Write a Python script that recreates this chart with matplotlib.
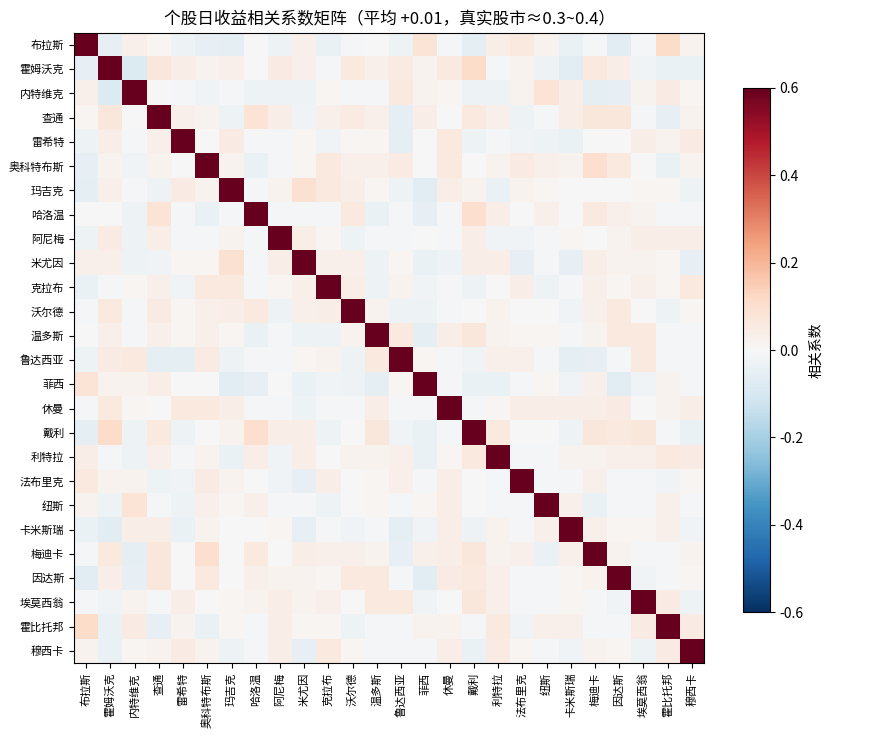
import numpy as np
import matplotlib
matplotlib.use("Agg")
import matplotlib.pyplot as plt

plt.rcParams['font.family'] = ['Noto Sans CJK SC', 'DejaVu Sans']
plt.rcParams['axes.unicode_minus'] = False

stocks = ["布拉斯", "霍姆沃克", "内特维克", "查通", "雷希特", "奥科特布斯", "玛吉克",
          "哈洛温", "阿尼梅", "米尤因", "克拉布", "沃尔德", "温多斯", "鲁达西亚",
          "菲西", "休曼", "戴利", "利特拉", "法布里克", "纽斯", "卡米斯瑞", "梅迪卡",
          "因达斯", "埃莫西翁", "霍比托邦", "穆西卡"]

# upper triangle, row i holds columns i+1 .. 25
upper_rows = [
    [-0.05, 0.03, 0.01, -0.03, -0.05, -0.06, 0, -0.03, 0.03, -0.04, -0.01, 0,
     -0.03, 0.08, -0.01, -0.06, 0.04, 0.06, 0.02, -0.04, -0.01, -0.07, -0.01, 0.11, 0.02],
    [-0.08, 0.07, 0.04, 0.02, 0.03, 0, 0.05, 0.03, -0.01, 0.06, 0.03,
     0.05, 0.02, 0.06, 0.11, -0.01, 0.02, -0.03, -0.07, 0.06, 0.04, -0.02, -0.04, -0.04],
    [0, -0.01, -0.02, -0.01, -0.03, -0.03, -0.03, 0.01, -0.01, -0.01,
     0.06, 0.02, 0.01, -0.03, -0.03, 0.02, 0.08, 0.04, -0.06, -0.05, 0.02, 0.05, 0.01],
    [0.03, 0.02, -0.03, 0.08, 0.04, -0.02, 0.03, 0.05, 0.03,
     -0.06, 0.04, 0, 0.06, 0.03, -0.03, -0.01, 0.04, 0.07, 0.07, -0.01, -0.05, 0.02],
    [0, 0.05, -0.01, -0.01, 0.01, -0.02, 0.01, 0.01,
     -0.06, 0, 0.06, -0.03, -0.01, -0.02, -0.03, -0.04, 0, 0, 0.04, 0.02, 0.05],
    [0.02, -0.04, -0.01, 0.01, 0.06, 0.03, 0.03,
     0.05, 0, 0.06, 0, 0.02, 0.05, 0.03, 0.02, 0.10, 0.06, 0, -0.04, 0.02],
    [-0.01, 0.02, 0.09, 0.06, 0.04, 0.01,
     -0.03, -0.07, 0.04, 0.02, -0.04, 0.02, 0.01, 0, 0, 0, 0.01, 0.01, -0.03],
    [-0.01, -0.01, -0.01, 0.06, -0.04,
     -0.01, -0.05, -0.01, 0.10, 0.04, 0, 0.03, 0, 0.06, 0.03, 0.02, -0.01, -0.01],
    [0.04, 0.01, -0.03, -0.01,
     -0.01, 0, -0.01, 0.04, -0.02, -0.02, -0.01, 0.01, 0, 0.02, 0.04, 0.04, 0.04],
    [0.03, 0.03, -0.03,
     0.01, -0.04, -0.03, 0.04, 0.04, -0.05, -0.01, -0.05, 0.04, 0.02, 0.02, 0.01, -0.05],
    [0.04, -0.03,
     0.02, -0.02, -0.01, -0.03, 0, 0.04, -0.03, -0.01, 0.03, 0.01, 0.03, 0.01, 0.06],
    [0.02,
     -0.03, -0.03, -0.01, 0, 0.02, 0, 0, -0.02, 0.03, 0.06, 0, -0.03, 0.01],
    [0.06, -0.06, 0.04, 0.07, 0.02, 0.01, 0.01, -0.01, 0.02, 0.06, 0.06, -0.01, -0.01],
    [0.01, -0.01, -0.02, 0.03, 0.03, -0.01, -0.06, -0.05, -0.01, 0.06, -0.01, -0.01],
    [-0.01, -0.04, -0.04, -0.01, 0.01, -0.02, 0.03, -0.07, -0.02, 0.02, -0.01],
    [-0.01, 0.01, 0.04, 0.04, 0.04, 0.04, 0.05, 0, 0.02, 0.04],
    [0.06, 0, 0, -0.03, 0.07, 0.06, 0.07, -0.01, -0.04],
    [-0.01, -0.01, 0.02, 0.02, 0.03, 0.03, 0.06, 0.05],
    [-0.01, -0.01, 0.03, -0.01, -0.01, -0.02, 0.01],
    [0.03, -0.04, -0.01, -0.01, 0.03, -0.01],
    [0.03, 0.01, 0.01, 0.03, -0.02],
    [0.02, -0.01, -0.01, 0.02],
    [-0.02, -0.01, 0.01],
    [0.05, -0.03],
    [0.05],
]

n = len(stocks)
corr = np.eye(n)
for i, row in enumerate(upper_rows):
    for k, v in enumerate(row):
        j = i + 1 + k
        corr[i, j] = v
        corr[j, i] = v

fig = plt.figure(figsize=(8.75, 7.37), dpi=100)
ax = fig.add_axes([0.0846, 0.1004, 0.72, 0.855])
im = ax.imshow(corr, cmap="RdBu_r", vmin=-0.6, vmax=0.6, aspect="auto",
               interpolation="nearest")
ax.set_xticks(range(n))
ax.set_yticks(range(n))
ax.set_xticklabels(stocks, rotation=90, fontsize=8)
ax.set_yticklabels(stocks, fontsize=8)
ax.set_title("个股日收益相关系数矩阵（平均 +0.01，真实股市≈0.3~0.4）", fontsize=12)

cax = fig.add_axes([0.849, 0.1696, 0.031, 0.711])
cb = fig.colorbar(im, cax=cax)
cb.set_label("相关系数", fontsize=10)
cb.ax.tick_params(labelsize=10)

plt.savefig("out.png", dpi=100)
